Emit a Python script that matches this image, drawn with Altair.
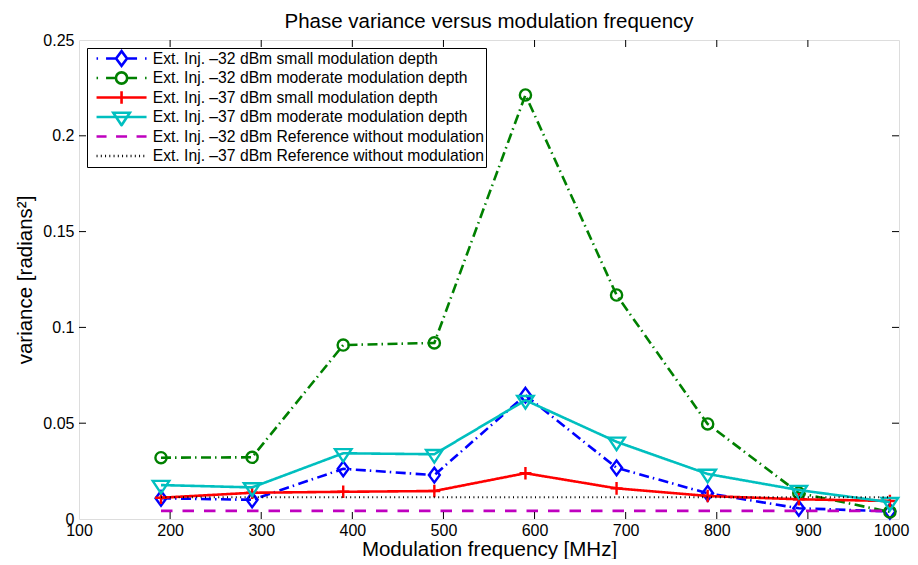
import altair as alt
import pandas as pd

# ---------------- data ----------------
freq = [190, 290, 390, 490, 590, 690, 790, 890, 990]

names = [
    "Ext. Inj. –32 dBm small modulation depth",
    "Ext. Inj. –32 dBm moderate modulation depth",
    "Ext. Inj. –37 dBm small modulation depth",
    "Ext. Inj. –37 dBm moderate modulation depth",
    "Ext. Inj. –32 dBm Reference without modulation",
    "Ext. Inj. –37 dBm Reference without modulation",
]

v32_small = [0.0108, 0.0100, 0.0262, 0.0229, 0.0646, 0.0267, 0.0134, 0.0056, 0.0040]
v32_moderate = [0.0320, 0.0322, 0.0908, 0.0919, 0.2213, 0.1169, 0.0496, 0.0136, 0.0037]
v37_small = [0.0111, 0.0137, 0.0142, 0.0146, 0.0239, 0.0160, 0.0120, 0.0103, 0.0094]
v37_moderate = [0.0177, 0.0165, 0.0343, 0.0338, 0.0620, 0.0403, 0.0235, 0.0151, 0.0088]
v32_ref = [0.0042] * 9
v37_ref = [0.0113] * 9

values = [v32_small, v32_moderate, v37_small, v37_moderate, v32_ref, v37_ref]

x_ticks = [100, 200, 300, 400, 500, 600, 700, 800, 900, 1000]
y_ticks = [0, 0.05, 0.1, 0.15, 0.2, 0.25]

# ---------------- styles ----------------
colors = ["#0000ff", "#008000", "#ff0000", "#00bfbf", "#bf00bf", "#000000"]
dashes = [[10, 4, 1.5, 4.5], [10, 4, 1.5, 4.5], [1, 0], [1, 0], [11.5, 10], [1, 3.4]]
widths = [2.6, 2.6, 2.6, 2.6, 2.8, 2.0]
markers = ["diamond", "circle", "plus", "tridown", None, None]
legend_lines = ["dashdot", "dashdot", "solid", "solid", "dashed", "dotted"]

W, H = 820, 479
FONT = "Liberation Sans"

# legend symbol geometry: symbolSize 100 -> path unit = 5 px
LEG_UNIT = 5.0
LEG_CENTER_SHIFT = 19.7  # px from symbol anchor to centre of the 50 px legend line


def f(v):
    return ("%.3f" % v).rstrip("0").rstrip(".")


def marker_path(kind, s, dx=0.0):
    if kind == "diamond":
        return "M%s,%s L%s,0 L%s,%s L%s,0 Z" % (f(dx), f(-1.05 * s), f(dx + 0.78 * s), f(dx), f(1.05 * s), f(dx - 0.78 * s))
    if kind == "circle":
        r = 0.8 * s
        return "M%s,0 A%s,%s 0 1,0 %s,0 A%s,%s 0 1,0 %s,0 Z" % (f(dx - r), f(r), f(r), f(dx + r), f(r), f(r), f(dx - r))
    if kind == "plus":
        return "M%s,0 H%s M%s,%s V%s" % (f(dx - 0.85 * s), f(dx + 0.85 * s), f(dx), f(-0.9 * s), f(0.9 * s))
    if kind == "tridown":
        return "M%s,%s L%s,%s L%s,%s Z" % (f(dx - 1.18 * s), f(-0.6 * s), f(dx + 1.18 * s), f(-0.6 * s), f(dx), f(1.19 * s))
    return ""


def lu(t):
    # t in [-1, 1] along the 50 px legend line -> path units
    return (LEG_CENTER_SHIFT + 25.0 * t) / LEG_UNIT


def seg(t0, t1):
    return "M%s,0 H%s" % (f(lu(t0)), f(lu(t1)))


def line_path(kind):
    if kind == "solid":
        return seg(-1, 1)
    if kind == "dashdot":
        return " ".join([seg(-1, -0.94), seg(-0.62, -0.22), seg(0.22, 0.62), seg(0.94, 1)])
    if kind == "dashed":
        return " ".join([seg(-1, -0.6), seg(-0.22, 0.22), seg(0.6, 1)])
    if kind == "dotted":
        return " ".join(seg(-1 + k * 0.17, -1 + k * 0.17 + 0.04) for k in range(12))
    return ""


legend_paths = []
for m, lk in zip(markers, legend_lines):
    p = line_path(lk)
    if m:
        p += " " + marker_path(m, 7.0 / LEG_UNIT, lu(0))
    legend_paths.append(p)

xscale = alt.Scale(domain=[100, 1000], nice=False, zero=False)
yscale = alt.Scale(domain=[0, 0.25], nice=False, zero=True)

x_axis = alt.Axis(values=x_ticks, format="d", title="Modulation frequency [MHz]",
                  grid=False, ticks=False, domain=False, labelFlush=False, labelOverlap=False,
                  labelFontSize=16, labelFont=FONT, labelColor="black", labelPadding=3,
                  labelOffset={"condition": {"test": "datum.value == 1000", "value": -8}, "value": 0},
                  titleFontSize=20.5, titleFont=FONT, titleFontWeight="normal", titleColor="black",
                  titlePadding=1)
y_axis = alt.Axis(values=y_ticks, format="~g", title="variance [radians²]",
                  grid=False, ticks=False, domain=False, labelFlush=False, labelOverlap=False,
                  labelFontSize=16, labelFont=FONT, labelColor="black", labelPadding=5,
                  titleFontSize=20.5, titleFont=FONT, titleFontWeight="normal", titleColor="black",
                  titlePadding=7)


def X(field):
    return alt.X(field, scale=xscale, axis=x_axis)


def Y(field):
    return alt.Y(field, scale=yscale, axis=y_axis)


layers = []
for name, vals, col, dash, lw, mk in zip(names, values, colors, dashes, widths, markers):
    df = pd.DataFrame({"freq": freq, "var": vals, "series": name})
    line = alt.Chart(df).mark_line(color=col, strokeWidth=lw, strokeDash=dash, clip=True).encode(
        x=X("freq:Q"), y=Y("var:Q"))
    layers.append(line)
    if mk:
        pts = alt.Chart(df).mark_point(shape=marker_path(mk, 1.0), size=196, filled=False,
                                        color=col, strokeWidth=2.4, opacity=1).encode(
            x=X("freq:Q"), y=Y("var:Q"))
        layers.append(pts)

# inward ticks (MATLAB box style)
xt = pd.DataFrame({"t": x_ticks[1:-1]})
yt = pd.DataFrame({"t": y_ticks[1:-1]})
tick_style = dict(color="black", strokeWidth=1)
layers.append(alt.Chart(xt).mark_rule(**tick_style).encode(
    x=X("t:Q"), y=alt.value(H), y2=alt.value(H - 7)))
layers.append(alt.Chart(xt).mark_rule(**tick_style).encode(
    x=X("t:Q"), y=alt.value(0), y2=alt.value(7)))
layers.append(alt.Chart(yt).mark_rule(**tick_style).encode(
    y=Y("t:Q"), x=alt.value(0), x2=alt.value(7)))
layers.append(alt.Chart(yt).mark_rule(**tick_style).encode(
    y=Y("t:Q"), x=alt.value(W), x2=alt.value(W - 7)))

# legend layer (no marks drawn; legend built from explicit scale domains)
leg_df = pd.DataFrame({"series": names, "freq": [freq[0]] * len(names), "var": [0.0] * len(names)})
leg_props = dict(title=None, orient="none", legendX=8, legendY=8,
                 fillColor="white", strokeColor="black", padding=1, cornerRadius=0,
                 labelFont=FONT, labelFontSize=15.7, labelColor="black", labelLimit=500,
                 symbolSize=100, symbolStrokeWidth=2.6, symbolFillColor="transparent",
                 symbolOpacity=1, symbolOffset=6, labelOffset=43, rowPadding=0.5, clipHeight=19)
legend_layer = alt.Chart(leg_df).transform_filter("false").mark_point(filled=False, strokeWidth=2.6).encode(
    x=X("freq:Q"),
    y=Y("var:Q"),
    color=alt.Color("series:N", scale=alt.Scale(domain=names, range=colors), legend=alt.Legend(**leg_props)),
    shape=alt.Shape("series:N", scale=alt.Scale(domain=names, range=legend_paths), legend=alt.Legend(**leg_props)),
)
layers.append(legend_layer)

chart = alt.layer(*layers).properties(
    width=W, height=H,
    title=alt.Title("Phase variance versus modulation frequency", fontSize=20.5, font=FONT,
                    fontWeight="normal", color="black", frame="group", anchor="middle", offset=0),
    autosize=alt.AutoSizeParams(type="none"),
    padding={"left": 71, "top": 32, "right": 11, "bottom": 40},
).configure_view(stroke="black", strokeWidth=1.3).configure(background="white")

chart.save("out.html", embed_options={"renderer": "svg", "actions": False})
